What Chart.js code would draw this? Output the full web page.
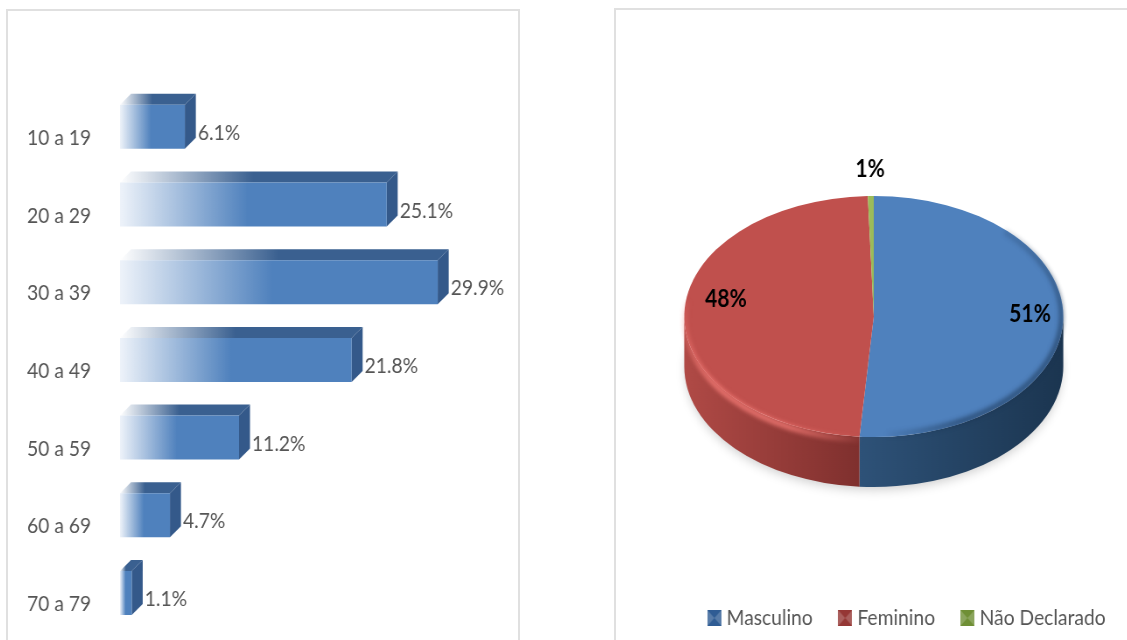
<!DOCTYPE html>
<html>
<head>
<meta charset="utf-8">
<script src="https://cdn.jsdelivr.net/npm/chart.js@4"></script>
<style>
    html, body { margin: 0; width: 1127px; height: 640px; overflow: hidden; background: #fff; }
    .panel { position: absolute; box-sizing: border-box; border: 2px solid #e0e0e0; background: #fff; }
    #left-panel { left: 6px; top: 9px; width: 514px; height: 660px; }
    #right-panel { left: 614px; top: 8px; width: 540px; height: 660px; }
    /* the reference text is tall and narrow, so both canvases are condensed */
    canvas { position: absolute; filter: blur(0.5px); transform: scaleX(0.875); transform-origin: 0 0; }
    #ageChart { left: 8px; top: 11px; }
    #genderChart { left: 606px; top: 10px; }
</style>
</head>
<body>
<div class="panel" id="left-panel"></div>
<div class="panel" id="right-panel"></div>
<canvas id="ageChart" width="583" height="667"></canvas>
<canvas id="genderChart" width="605" height="640"></canvas>
<script>
// Chart values
const ageGroups = ['10 a 19', '20 a 29', '30 a 39', '40 a 49', '50 a 59', '60 a 69', '70 a 79'];
const agePercents = [6.1, 25.1, 29.9, 21.8, 11.2, 4.7, 1.1];
const genderLabels = ['Masculino', 'Feminino', 'Não Declarado'];
const genderPercents = [51.2, 48.3, 0.5];

// Shared styles
const squeeze = 0.875;
const fontFamily = 'Lato, sans-serif';
const textColor = '#555555';
const genderColors = ['#4f81bd', '#c0504d', '#9bbb59'];
const legendColors = ['#2f5c94', '#953735', '#6f8f35'];
const barDepthX = 11 / squeeze;
const barDepthY = 11;
const pieRadiusX = 189.5 / squeeze;
const pieFlatten = 120.5 / pieRadiusX;
const pieDepth = 50;

// Function to build the fade from white to blue along a bar
function barGradient(context) {
    const chart = context.chart;
    const xScale = chart.scales.x;
    const left = xScale ? xScale.getPixelForValue(0) : NaN;
    const right = xScale ? xScale.getPixelForValue(context.raw) : NaN;
    if (!Number.isFinite(left) || !Number.isFinite(right)) {
        return '#4f81bd';
    }
    const g = chart.ctx.createLinearGradient(left, 0, right, 0);
    g.addColorStop(0, '#eef3fa');
    g.addColorStop(0.48, '#4f81bd');
    g.addColorStop(1, '#4f81bd');
    return g;
}

// Plugin that draws the top and side of every bar and the value next to it
const bar3d = {
    id: 'bar3d',
    beforeDatasetsDraw(chart) {
        const ctx = chart.ctx;
        const left = chart.scales.x.getPixelForValue(0);
        chart.getDatasetMeta(0).data.forEach(bar => {
            const top = bar.y - bar.height / 2;
            const bottom = bar.y + bar.height / 2;

            // top face
            const g = ctx.createLinearGradient(left, 0, bar.x, 0);
            g.addColorStop(0, '#ffffff');
            g.addColorStop(0.5, '#3a6090');
            g.addColorStop(1, '#3a6090');
            ctx.fillStyle = g;
            ctx.beginPath();
            ctx.moveTo(left, top);
            ctx.lineTo(left + barDepthX, top - barDepthY);
            ctx.lineTo(bar.x + barDepthX, top - barDepthY);
            ctx.lineTo(bar.x, top);
            ctx.closePath();
            ctx.fill();

            // side face
            ctx.fillStyle = '#34598a';
            ctx.beginPath();
            ctx.moveTo(bar.x, top);
            ctx.lineTo(bar.x + barDepthX, top - barDepthY);
            ctx.lineTo(bar.x + barDepthX, bottom - barDepthY);
            ctx.lineTo(bar.x, bottom);
            ctx.closePath();
            ctx.fill();
        });
    },
    afterDatasetsDraw(chart) {
        const ctx = chart.ctx;
        ctx.save();
        ctx.font = '22px ' + fontFamily;
        ctx.fillStyle = textColor;
        ctx.textBaseline = 'middle';
        chart.getDatasetMeta(0).data.forEach((bar, i) => {
            ctx.fillText(agePercents[i].toFixed(1) + '%', bar.x + 13 / squeeze, bar.y + 6);
        });
        ctx.restore();
    }
};

// Age chart
new Chart(document.getElementById('ageChart'), {
    type: 'bar',
    data: {
        labels: ageGroups,
        datasets: [{
            data: agePercents,
            backgroundColor: barGradient,
            barPercentage: 0.567,
            categoryPercentage: 1
        }]
    },
    options: {
        indexAxis: 'y',
        responsive: false,
        animation: false,
        layout: { padding: { top: 77, bottom: 9, right: 30 } },
        plugins: { legend: { display: false }, tooltip: { enabled: false } },
        scales: {
            x: { display: false, min: 0, max: 35 },
            y: {
                afterFit(scale) { scale.width = 128; },
                grid: { display: false, drawTicks: false },
                border: { display: false },
                ticks: {
                    color: textColor,
                    padding: 33,
                    labelOffset: 11,
                    font: { family: fontFamily, size: 22 }
                }
            }
        }
    },
    plugins: [bar3d]
});

// Function to make a small bevelled legend marker
function legendMarker(color) {
    const size = 16;
    const marker = document.createElement('canvas');
    marker.width = size;
    marker.height = size;
    const c = marker.getContext('2d');
    c.fillStyle = color;
    c.fillRect(0, 0, size, size);
    c.fillStyle = 'rgba(255,255,255,0.2)';
    c.beginPath();
    c.moveTo(0, 0);
    c.lineTo(size / 2, size / 2);
    c.lineTo(0, size);
    c.moveTo(size, 0);
    c.lineTo(size / 2, size / 2);
    c.lineTo(size, size);
    c.fill();
    return marker;
}

// Function to stroke a soft band along the pie edge, fading out at both ends
function softRim(ctx, cx, cy, r, ry, from, to, rgb, strength, width) {
    const g = ctx.createConicGradient(from, cx, cy);
    const part = (to - from) / (Math.PI * 2);
    g.addColorStop(0, `rgba(${rgb},0)`);
    g.addColorStop(part * 0.4, `rgba(${rgb},${strength})`);
    g.addColorStop(part * 0.7, `rgba(${rgb},${strength})`);
    g.addColorStop(part, `rgba(${rgb},0)`);
    g.addColorStop(1, `rgba(${rgb},0)`);
    ctx.save();
    ctx.filter = 'blur(2px)';
    ctx.strokeStyle = g;
    ctx.lineWidth = width;
    ctx.beginPath();
    ctx.ellipse(cx, cy, r, ry, 0, from, to);
    ctx.stroke();
    ctx.restore();
}

// Plugin that squashes the pie into an ellipse and adds the wall and labels
const pie3d = {
    id: 'pie3d',
    beforeDatasetsDraw(chart) {
        const ctx = chart.ctx;
        const arcs = chart.getDatasetMeta(0).data;
        const cx = arcs[0].x;
        const cy = arcs[0].y;
        const r = arcs[0].outerRadius;
        const ry = r * pieFlatten;

        // soft shadow under the pie
        ctx.save();
        ctx.shadowColor = 'rgba(0,0,0,0.22)';
        ctx.shadowBlur = 12;
        ctx.shadowOffsetY = 4;
        ctx.fillStyle = '#fff';
        ctx.beginPath();
        ctx.ellipse(cx, cy + pieDepth, r - 2, ry - 2, 0, 0, Math.PI * 2);
        ctx.fill();
        ctx.restore();

        // wall of each slice, only the part facing the viewer
        const wallColors = [['#2e5278', '#1b3550'], ['#7f302e', '#b04a46']];
        arcs.slice(0, 2).forEach((arc, i) => {
            const a = Math.max(arc.startAngle, 0);
            const b = Math.min(arc.endAngle, Math.PI);
            const g = ctx.createLinearGradient(cx + r * Math.cos(a), 0, cx + r * Math.cos(b), 0);
            g.addColorStop(i == 0 ? 1 : 0, wallColors[i][0]);
            g.addColorStop(i == 0 ? 0 : 1, wallColors[i][1]);
            ctx.fillStyle = g;
            ctx.beginPath();
            ctx.ellipse(cx, cy, r, ry, 0, a, b);
            ctx.ellipse(cx, cy + pieDepth, r, ry, 0, b, a, true);
            ctx.closePath();
            ctx.fill();
        });

        // squash the slices the library draws next
        ctx.save();
        ctx.translate(cx, cy);
        ctx.scale(1, pieFlatten);
        ctx.translate(-cx, -cy);
    },
    afterDatasetsDraw(chart) {
        const ctx = chart.ctx;
        ctx.restore();

        const arcs = chart.getDatasetMeta(0).data;
        const cx = arcs[0].x;
        const cy = arcs[0].y;
        const r = arcs[0].outerRadius;
        const ry = r * pieFlatten;

        // light rim on the red slice, dark rim on the blue slice
        softRim(ctx, cx, cy + 3, r - 1, ry, arcs[1].startAngle, Math.PI * 1.05, '240,120,115', 0.85, 6);
        softRim(ctx, cx, cy, r - 2, ry - 2, -0.8, 1.5, '25,50,80', 0.55, 6);

        // percent labels, placed along the middle of each slice
        const labelReach = [0.825, 0.78, 1.22];
        const labelLift = [6, 15, 0];
        ctx.save();
        ctx.font = 'bold 24px ' + fontFamily;
        ctx.fillStyle = '#000';
        ctx.textAlign = 'center';
        ctx.textBaseline = 'middle';
        arcs.forEach((arc, i) => {
            const mid = (arc.startAngle + arc.endAngle) / 2;
            const x = cx + r * labelReach[i] * Math.cos(mid);
            const y = cy + ry * labelReach[i] * Math.sin(mid) - labelLift[i];
            ctx.fillText(Math.round(genderPercents[i]) + '%', x, y);
        });
        ctx.restore();
    }
};

// Gender chart
new Chart(document.getElementById('genderChart'), {
    type: 'pie',
    data: {
        labels: genderLabels,
        datasets: [{
            data: genderPercents,
            backgroundColor: genderColors,
            borderWidth: 0,
            radius: pieRadiusX
        }]
    },
    options: {
        responsive: false,
        animation: false,
        layout: { padding: { top: 50, left: 7, bottom: 11 } },
        plugins: {
            tooltip: { enabled: false },
            legend: {
                position: 'bottom',
                align: 'end',
                labels: {
                    color: textColor,
                    padding: 34,
                    boxWidth: 6,
                    usePointStyle: true,
                    font: { family: fontFamily, size: 22 },
                    generateLabels(chart) {
                        return genderLabels.map((text, i) => ({
                            text: text,
                            fontColor: textColor,
                            pointStyle: legendMarker(legendColors[i]),
                            index: i
                        }));
                    }
                }
            }
        }
    },
    plugins: [pie3d]
});
</script>
</body>
</html>
